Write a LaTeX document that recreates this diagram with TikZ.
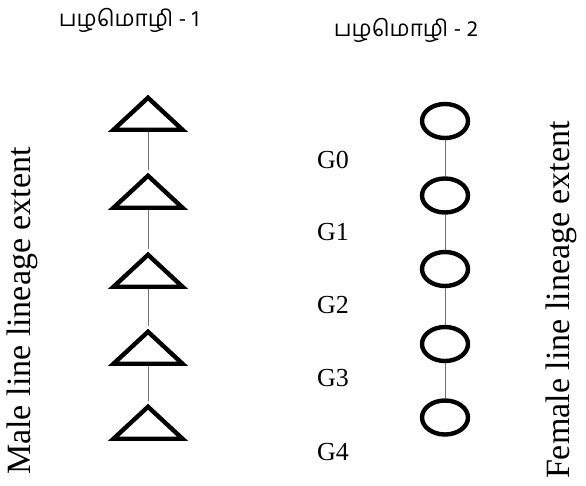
\documentclass[tikz,border=0pt]{standalone}
\usepackage{fontspec}
\setmainfont{Liberation Serif}
\newfontfamily\tamilfont[Script=Tamil]{Hind Madurai}
\usetikzlibrary{shapes.geometric}
\tikzset{
  male/.style={draw=black, line width=4.4pt, isosceles triangle, shape border rotate=90,
    isosceles triangle stretches, minimum width=69pt, minimum height=32pt, inner sep=0pt, anchor=apex},
  female/.style={draw=black, line width=4.4pt, ellipse, minimum width=46pt, minimum height=34pt, inner sep=0pt},
  link/.style={draw=black!55, line width=1pt},
  gen/.style={font=\fontsize{26}{28}\selectfont, anchor=west, inner sep=0pt},
  side/.style={font=\fontsize{34}{36}\selectfont, rotate=90, inner sep=0pt},
  title/.style={font=\tamilfont\fontsize{22.5}{26}\selectfont, inner sep=0pt}
}
\begin{document}
\begin{tikzpicture}[x=1pt,y=-1pt]
\useasboundingbox[fill=white] (0,0) rectangle (586,485);
\node[title] (p1) at (129,20) {பழமொழி - 1};
\node[title] (p2) at (406,30) {பழமொழி - 2};
\foreach \i/\y in {0/92,1/170,2/249,3/326,4/401}{
  \node[male] (t\i) at (148,\y) {};
}
\foreach \i/\y in {0/121,1/195.5,2/269,3/344,4/417.5}{
  \node[female] (e\i) at (445,\y) {};
}
\foreach \a/\b in {0/1,1/2,2/3,3/4}{
  \draw[link] (t\a.lower side) -- (t\b.apex);
  \draw[link] (e\a.south) -- (e\b.north);
}
\foreach \i/\y in {0/160,1/232,2/305,3/378,4/452}{
  \node[gen] (g\i) at (317,\y) {G\i};
}
\node[side] (ml) at (22,311) {Male line lineage extent};
\node[side] (fl) at (561,300) {Female line lineage extent};
\end{tikzpicture}
\end{document}
